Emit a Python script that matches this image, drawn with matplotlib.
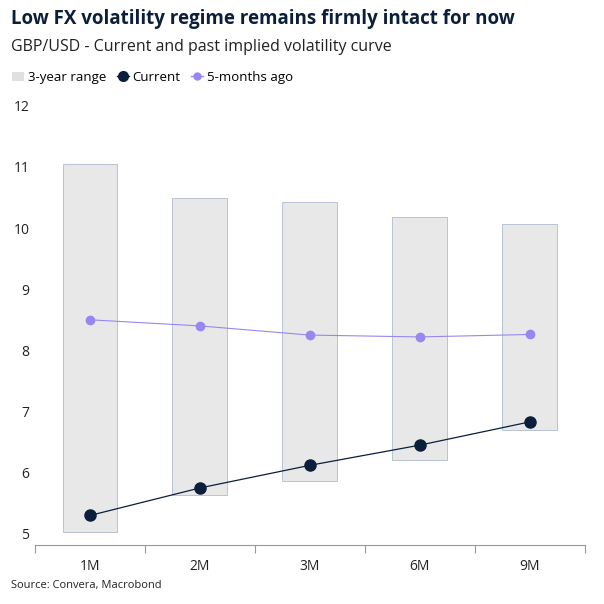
import matplotlib.pyplot as plt
from matplotlib.patches import Patch
from matplotlib.lines import Line2D

plt.rcParams['font.family'] = ['Open Sans', 'DejaVu Sans']

tenors = ['1M', '2M', '3M', '6M', '9M']
range_low = [5.03, 5.63, 5.87, 6.20, 6.70]
range_high = [11.05, 10.50, 10.43, 10.18, 10.07]
current = [5.30, 5.75, 6.12, 6.45, 6.83]
five_months_ago = [8.50, 8.40, 8.25, 8.22, 8.26]

navy = '#0b1f3a'
purple = '#9a86f0'

fig = plt.figure(figsize=(6.04, 6.04), dpi=100)
ax = fig.add_axes([0.058, 0.098, 0.91, 0.74])

x = list(range(len(tenors)))
heights = [h - l for h, l in zip(range_high, range_low)]
ax.bar(x, heights, bottom=range_low, width=0.5, color='#e8e8e8', edgecolor='#b8c4d4', linewidth=0.7, zorder=1)
ax.plot(x, five_months_ago, color=purple, lw=0.8, marker='o', ms=6, zorder=3)
ax.plot(x, current, color=navy, lw=0.9, marker='o', ms=8, zorder=4)

ax.set_xlim(-0.5, 4.5)
ax.set_ylim(4.82, 12.13)
ax.set_yticks(range(5, 13))
ax.set_xticks([i - 0.5 for i in range(6)])
ax.set_xticklabels([])
ax.set_xticks(x, minor=True)
ax.set_xticklabels(tenors, minor=True)
ax.tick_params(axis='x', which='major', length=6, color='#999999')
ax.tick_params(axis='x', which='minor', length=0, pad=10, labelsize=10, colors='#222222')
ax.tick_params(axis='y', length=0, labelsize=10, colors='#222222', pad=4)
for s in ['top', 'right', 'left']:
    ax.spines[s].set_visible(False)
ax.spines['bottom'].set_color('#999999')

fig.text(0.018, 0.968, 'Low FX volatility regime remains firmly intact for now', fontsize=13.5,
         fontweight='bold', color=navy, va='center')
fig.text(0.018, 0.922, 'GBP/USD - Current and past implied volatility curve', fontsize=11.5,
         color='#222222', va='center')
handles = [Patch(facecolor='#e0e0e0', edgecolor='none'),
           Line2D([], [], color=navy, marker='o', ms=7, lw=1),
           Line2D([], [], color=purple, marker='o', ms=5, lw=1)]
fig.legend(handles, ['3-year range', 'Current', '5-months ago'], loc='center left',
           bbox_to_anchor=(0.0, 0.872), ncol=3, frameon=False, fontsize=9.5,
           handlelength=0.9, handletextpad=0.3, columnspacing=0.8)
fig.text(0.018, 0.03, 'Source: Convera, Macrobond', fontsize=8, color='#222222', va='center')

fig.savefig('out.png', dpi=100)
